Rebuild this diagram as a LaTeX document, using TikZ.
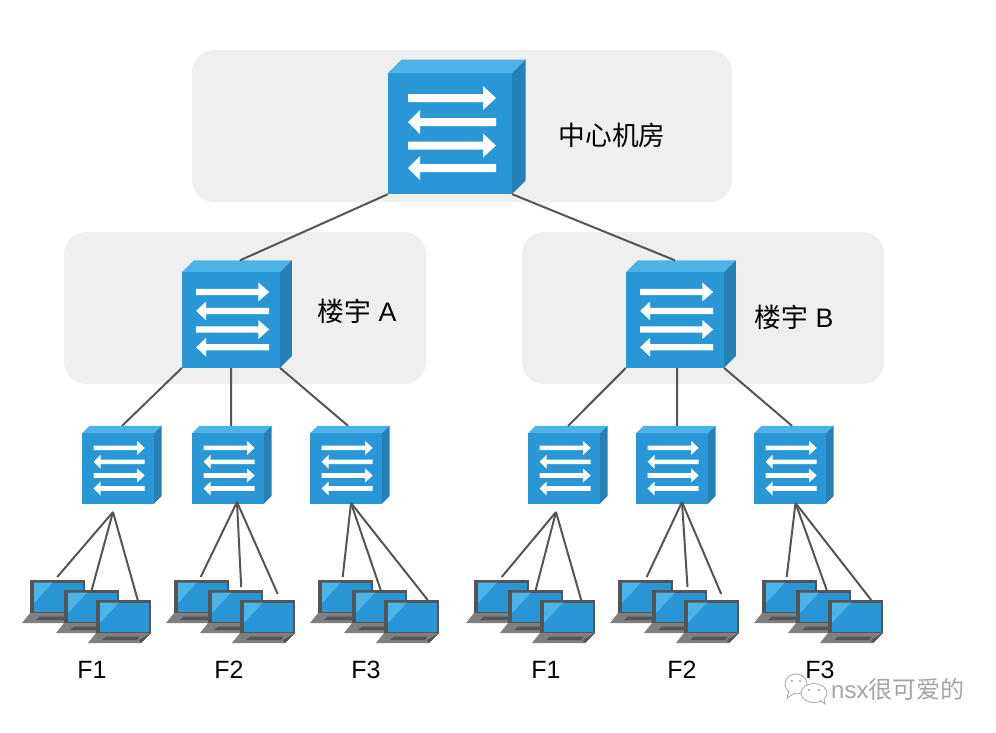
\documentclass[tikz,border=0pt]{standalone}
\usepackage{fontspec}
\setmainfont{Liberation Sans}
\newfontfamily\cjk{Noto Sans CJK SC}
\usepackage{xcolor}
\definecolor{panelgrey}{RGB}{239,239,239}
\definecolor{swfront}{RGB}{41,150,214}
\definecolor{swtop}{RGB}{76,179,232}
\definecolor{swside}{RGB}{37,128,181}
\definecolor{linkgrey}{RGB}{85,85,85}
\definecolor{lapbase}{RGB}{128,128,128}
\definecolor{markgrey}{RGB}{165,165,165}
\tikzset{
  panel/.style={fill=panelgrey, rounded corners=22pt, inner sep=0pt},
  link/.style={draw=linkgrey, line width=2pt},
  label/.style={font=\fontsize{25}{30}\selectfont, text=black, inner sep=0pt},
  biglabel/.style={font=\fontsize{26.7}{32}\selectfont, text=black, inner sep=0pt},
  % #1 depth of the box, #2 width factor of the arrows
  pics/netswitch/.style 2 args={code={
    % box with its three visible faces
    \fill[swtop] (-62,-60.5)--(-62+#1,-60.5-#1)--(62+#1,-60.5-#1)--(62,-60.5)--cycle;
    \fill[swside] (62,-60.5)--(62+#1,-60.5-#1)--(62+#1,60.5-#1)--(62,60.5)--cycle;
    \node (-front) [fill=swfront, transform shape, inner sep=0pt, minimum width=124pt, minimum height=121pt] at (0,0) {};
    \coordinate (-top) at (7,-60.5-#1);
    % two pairs of opposed arrows
    \begin{scope}[xscale=#2]
      \foreach \ya in {-35.5,12}
        \fill[white] (-42,\ya-4)--(33,\ya-4)--(33,\ya-12)--(46,\ya)--(33,\ya+12)--(33,\ya+4)--(-42,\ya+4)--cycle;
      \foreach \yb in {-11.5,34.5}
        \fill[white] (46,\yb-4)--(-30,\yb-4)--(-30,\yb-12)--(-42,\yb)--(-30,\yb+12)--(-30,\yb+4)--(46,\yb+4)--cycle;
    \end{scope}
  }},
  pics/laptop/.style={code={
    \node (-frame) [fill=linkgrey, inner sep=0pt, minimum width=55pt, minimum height=33pt, anchor=north west] at (0,0) {};
    \fill[lapbase] (0,33)--(55,33)--(45,43)--(-8,43)--cycle;
    \fill[linkgrey] (55,33)--(45,43)--(43,40)--cycle;
    \fill[linkgrey] (10,36.5)--(44,36.5)--(41,40)--(6,40)--cycle;
    \fill[swfront] (4,2.5) rectangle (52.5,31.5);
    \fill[swtop] (4,2.5)--(23,2.5)--(4,23)--cycle;
  }},
}
\begin{document}
\begin{tikzpicture}[x=1pt, y=-1pt]
  \useasboundingbox (0,0) rectangle (996,732);
  % grey areas behind the switches
  \node (panelcore) [panel, minimum width=540pt, minimum height=152pt] at (462,126) {};
  \node (panela) [panel, minimum width=362pt, minimum height=152pt] at (245,308) {};
  \node (panelb) [panel, minimum width=362pt, minimum height=152pt] at (703,308) {};
  % switches, large to small
  \pic (core) at (450,133.5) {netswitch={13.5}{1}};
  \pic[scale=0.79] (builda) at (231,320) {netswitch={15}{1.05}};
  \pic[scale=0.79] (buildb) at (675,320) {netswitch={15}{1.05}};
  \foreach \fname/\xf in {af1/118,af2/228,af3/346,bf1/564,bf2/672,bf3/790}
    \pic[scale=0.58] (\fname) at (\xf,468.5) {netswitch={13}{1}};
  % three overlapping laptops on each floor
  \foreach \fname/\xo in {af1/0,af2/144,af3/288,bf1/444,bf2/588,bf3/732} {
    \pic (\fname l1) at (30+\xo,580) {laptop};
    \pic (\fname l2) at (64+\xo,590) {laptop};
    \pic (\fname l3) at (96+\xo,600) {laptop};
  }
  % uplinks
  \draw[link] (core-front.south west) -- ([xshift=3.5pt]builda-top);
  \draw[link] (core-front.south east) -- ([xshift=-5.5pt]buildb-top);
  \draw[link] (builda-front.south west) -- (af1-top);
  \draw[link] (builda-front.south) -- ([xshift=-1pt]af2-top);
  \draw[link] (builda-front.south east) -- ([xshift=-2pt]af3-top);
  \draw[link] (buildb-front.south west) -- (bf1-top);
  \draw[link] ([xshift=2pt]buildb-front.south) -- ([xshift=1pt]bf2-top);
  \draw[link] (buildb-front.south east) -- ([xshift=-2pt]bf3-top);
  % laptop links meet in one point under each floor switch
  \foreach \fname/\ax/\ay/\ea/\eb/\ec/\yb/\yc in {af1/113/512/-0.5/0/14/0/0,af2/237/502/-1/5.5/10/3/6,af3/351/503/-3/1/16/0/0,bf1/556/512/0/0/13.5/0/0,bf2/682/502/1/7.8/9.5/3/6,bf3/795.5/503/-3/3/15.5/0/0} {
    \coordinate (\fname hub) at (\ax,\ay);
    \draw[link] (\fname hub) -- ([xshift=\ea pt, yshift=3pt]\fname l1-frame.north);
    \draw[link] (\fname hub) -- ([xshift=\eb pt, yshift=\yb pt]\fname l2-frame.north);
    \draw[link] (\fname hub) -- ([xshift=\ec pt, yshift=\yc pt]\fname l3-frame.north);
  }
  % captions
  \node (labcore) [biglabel] at (612,135) {\cjk 中心机房};
  \node (laba) [biglabel] at (357,311) {{\cjk 楼宇}\ A};
  \node (labb) [biglabel] at (794,317) {{\cjk 楼宇}\ B};
  \foreach \lname/\xl/\ltext in {fa/92/F1,fb/229/F2,fc/366/F3,fd/546/F1,fe/682/F2,ff/820/F3}
    \node (\lname) [label] at (\xl,670) {\ltext};
  % small mark in the lower right corner
  \draw[markgrey, fill=white, line width=0.8pt] (796,684) ellipse (11 and 10);
  \draw[markgrey, fill=white, line width=0.8pt] (789,691)--(787,698)--(795,693);
  \draw[markgrey, fill=white, line width=0.8pt] (814,693) ellipse (13 and 9.5);
  \draw[markgrey, fill=white, line width=0.8pt] (820,700)--(825,704)--(824,698);
  \fill[markgrey] (809,690) circle (1.2) (819,690) circle (1.2) (792,681) circle (1.2) (800,681) circle (1.2);
  \node (markname) [text=markgrey, font=\fontsize{24}{28}\selectfont, inner sep=0pt, anchor=west] at (831,689) {nsx\cjk 很可爱的};
\end{tikzpicture}
\end{document}
